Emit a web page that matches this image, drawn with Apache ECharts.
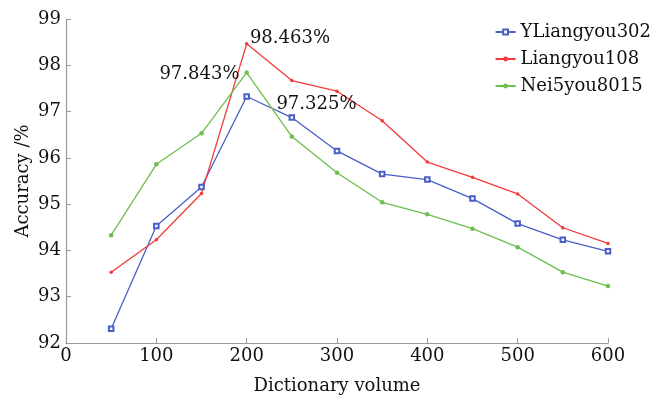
<!DOCTYPE html>
<html><head><meta charset="utf-8">
<script src="https://cdn.jsdelivr.net/npm/echarts@6/dist/echarts.min.js"></script>
<style>html,body{margin:0;padding:0;background:#fff}#c{width:652px;height:400px}</style>
</head><body><div id="c"></div>
<script>
const xValues = [50, 100, 150, 200, 250, 300, 350, 400, 450, 500, 550, 600];
const seriesNames = ['YLiangyou302', 'Liangyou108', 'Nei5you8015'];
const yliangyou302 = [92.31, 94.53, 95.37, 97.325, 96.87, 96.15, 95.65, 95.53, 95.12, 94.58, 94.23, 93.98];
const liangyou108 = [93.53, 94.23, 95.23, 98.463, 97.67, 97.44, 96.80, 95.91, 95.58, 95.22, 94.49, 94.15];
const nei5you8015 = [94.33, 95.86, 96.53, 97.843, 96.46, 95.68, 95.04, 94.78, 94.47, 94.07, 93.53, 93.23];
const peakIndex = 3;

const FONT = 'DejaVu Serif';
const colors = ['#4a5ec6', '#f23a3a', '#6cbf4c'];
const labelPos = [[33, 2], [5, -13], [-85, -5]];

function buildData(vals, si) {
  return vals.map((v, i) => {
    const item = { value: [xValues[i], v] };
    if (i === peakIndex) {
      item.label = {
        show: true, position: labelPos[si],
        formatter: p => p.value[1].toFixed(3) + '%',
        fontFamily: FONT, fontSize: 18, color: '#111'
      };
    }
    return item;
  });
}
const symbols = ['emptyRect', 'circle', 'circle'];
const sizes = [4.5, 3.5, 4.5];
const allVals = [yliangyou302, liangyou108, nei5you8015];

const chart = echarts.init(document.getElementById('c'));
chart.setOption({
  animation: false,
  color: colors,
  grid: { left: 66, right: 44, top: 19, bottom: 52 },
  legend: {
    right: -4, top: 18, orient: 'vertical', itemGap: 9,
    itemWidth: 20, itemHeight: 6,
    textStyle: { fontFamily: FONT, fontSize: 18, color: '#111' },
    data: seriesNames
  },
  xAxis: {
    type: 'value', min: 0, max: 600, interval: 100,
    name: 'Dictionary volume', nameLocation: 'middle', nameGap: 34, nameMoveOverlap: false,
    nameTextStyle: { fontFamily: FONT, fontSize: 18, color: '#111' },
    axisLine: { lineStyle: { color: '#999', width: 1.2 } },
    axisTick: { inside: true, length: 5, lineStyle: { color: '#999' } },
    axisLabel: { fontFamily: FONT, fontSize: 18, color: '#111', margin: 4 },
    splitLine: { show: false }
  },
  yAxis: {
    type: 'value', min: 92, max: 99, interval: 1,
    name: 'Accuracy /%', nameLocation: 'middle', nameGap: 34, nameMoveOverlap: false,
    nameTextStyle: { fontFamily: FONT, fontSize: 18, color: '#111' },
    axisLine: { show: true, lineStyle: { color: '#999', width: 1.2 } },
    axisTick: { show: true, inside: true, length: 5, lineStyle: { color: '#999' } },
    axisLabel: { fontFamily: FONT, fontSize: 18, color: '#111', margin: 5 },
    splitLine: { show: false }
  },
  series: seriesNames.map((n, si) => ({
    name: n, type: 'line', data: buildData(allVals[si], si),
    symbol: symbols[si], symbolSize: sizes[si], showAllSymbol: true,
    lineStyle: { width: 1.3 },
    itemStyle: { color: colors[si], borderWidth: 1.2 }
  }))
});
</script></body></html>
